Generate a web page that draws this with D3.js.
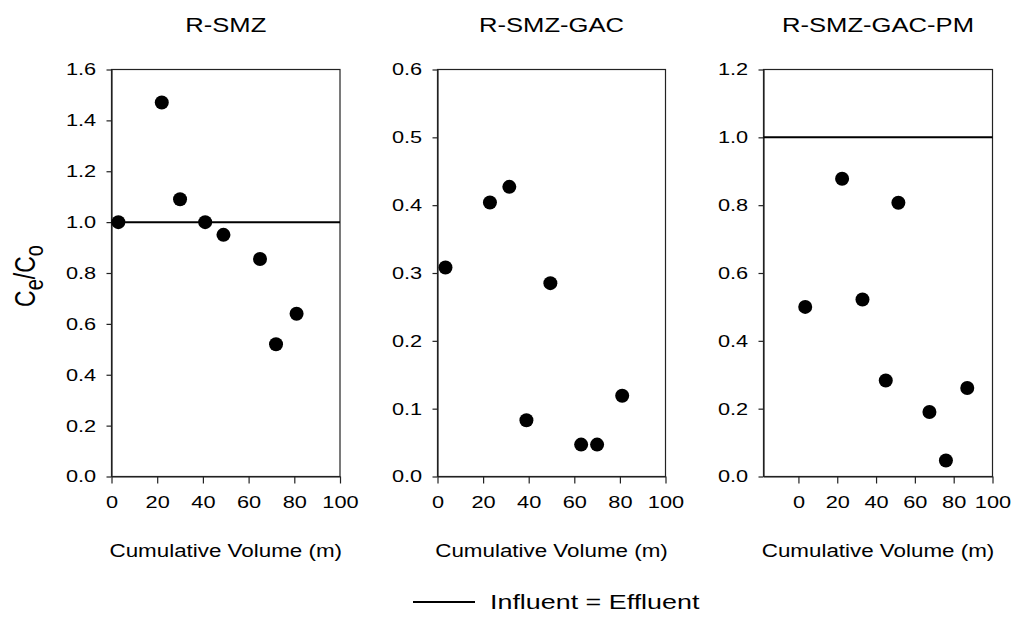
<!DOCTYPE html>
<html>
<head>
<meta charset="utf-8">
<script src="https://cdn.jsdelivr.net/npm/d3@7"></script>
<style>
  body { margin: 0; background: #fff; }
  svg text { font-family: Arial, "Liberation Sans", sans-serif; fill: #000; }
</style>
</head>
<body>
<svg id="chart" width="1012" height="632"></svg>
<script>
// values
const panelTitles = ['R-SMZ', 'R-SMZ-GAC', 'R-SMZ-GAC-PM']
const xTickValues = [0, 20, 40, 60, 80, 100]

const smzVolume = [3, 22, 30, 41, 49, 65, 72, 81]
const smzRatio = [1.0, 1.47, 1.09, 1.0, 0.95, 0.855, 0.52, 0.64]

const gacVolume = [3.5, 23, 31.5, 39, 49.5, 63, 70, 81]
const gacRatio = [0.308, 0.404, 0.427, 0.083, 0.285, 0.047, 0.047, 0.119]

const pmVolume = [3.5, 22.5, 33, 45, 51.5, 67.5, 76, 87]
const pmRatio = [0.5, 0.878, 0.522, 0.283, 0.807, 0.19, 0.047, 0.261]

const yMaxes = [1.6, 0.6, 1.2]
const yTickSteps = [0.2, 0.1, 0.2]
const xMins = [0, 0, -18]
const influentLevel = [1.0, null, 1.0]

const volumes = [smzVolume, gacVolume, pmVolume]
const ratios = [smzRatio, gacRatio, pmRatio]

// layout
const panelLeft = [111.5, 437.5, 763.5]
const panelRight = [340, 665.5, 992.5]
const plotTop = 69.5, plotBottom = 476.5
const stretch = 'scale(1.28,1)'

const svg = d3.select('#chart')

function stretchedText(x, y, str, size, anchor) {
  return svg.append('text')
    .attr('transform', `translate(${x},${y}) ${stretch}`)
    .attr('text-anchor', anchor || 'middle')
    .style('font-size', size + 'px')
    .text(str)
}

panelTitles.forEach((title, p) => {
  const x = d3.scaleLinear().domain([xMins[p], 100]).range([panelLeft[p], panelRight[p]])
  const y = d3.scaleLinear().domain([0, yMaxes[p]]).range([plotBottom, plotTop])
  const yTicks = d3.range(0, yMaxes[p] + 1e-9, yTickSteps[p])

  const g = svg.append('g')

  // frame (top and right sides)
  g.append('rect')
    .attr('x', panelLeft[p])
    .attr('y', plotTop)
    .attr('width', panelRight[p] - panelLeft[p])
    .attr('height', plotBottom - plotTop)
    .attr('fill', 'none')
    .attr('stroke', '#222')
    .attr('stroke-width', 1.2)

  const yAxis = g.append('g')
    .attr('transform', `translate(${panelLeft[p]},0)`)
    .call(d3.axisLeft(y).tickValues(yTicks).tickFormat(d3.format('.1f')).tickSize(5).tickSizeOuter(0).tickPadding(7))
  yAxis.selectAll('text').attr('transform', stretch).style('font-size', '17px')

  const xAxis = g.append('g')
    .attr('transform', `translate(0,${plotBottom})`)
    .call(d3.axisBottom(x).tickValues(xTickValues).tickFormat(d3.format('d')).tickSize(7).tickSizeOuter(0).tickPadding(12))
  xAxis.selectAll('text').attr('transform', stretch).style('font-size', '17px')

  g.selectAll('.domain, .tick line').attr('stroke', '#222').attr('stroke-width', 1.2)

  if (influentLevel[p] !== null) {
    g.append('line')
      .attr('x1', panelLeft[p])
      .attr('x2', panelRight[p])
      .attr('y1', y(influentLevel[p]))
      .attr('y2', y(influentLevel[p]))
      .attr('stroke', '#000')
      .attr('stroke-width', 2)
  }

  g.selectAll('circle')
    .data(d3.zip(volumes[p], ratios[p]))
    .enter()
    .append('circle')
    .attr('cx', d => x(d[0]))
    .attr('cy', d => y(d[1]))
    .attr('r', 7)
    .attr('fill', '#000')

  const mid = (panelLeft[p] + panelRight[p]) / 2
  stretchedText(mid, 32, title, 20)
  stretchedText(mid, 557, 'Cumulative Volume (m)', 17.5)
})

// y label Ce/Co
const yLabel = svg.append('text')
  .attr('transform', 'translate(35,276) rotate(-90) scale(1,1.28)')
  .attr('text-anchor', 'middle')
  .style('font-size', '23px')
yLabel.append('tspan').text('C')
yLabel.append('tspan').attr('dy', 6).style('font-size', '20px').text('e')
yLabel.append('tspan').attr('dy', -6).text('/C')
yLabel.append('tspan').attr('dy', 6).style('font-size', '20px').text('o')

// legend
svg.append('line')
  .attr('x1', 413).attr('x2', 475)
  .attr('y1', 602).attr('y2', 602)
  .attr('stroke', '#000')
  .attr('stroke-width', 2)
stretchedText(490, 609, 'Influent = Effluent', 21, 'start')
</script>
</body>
</html>
